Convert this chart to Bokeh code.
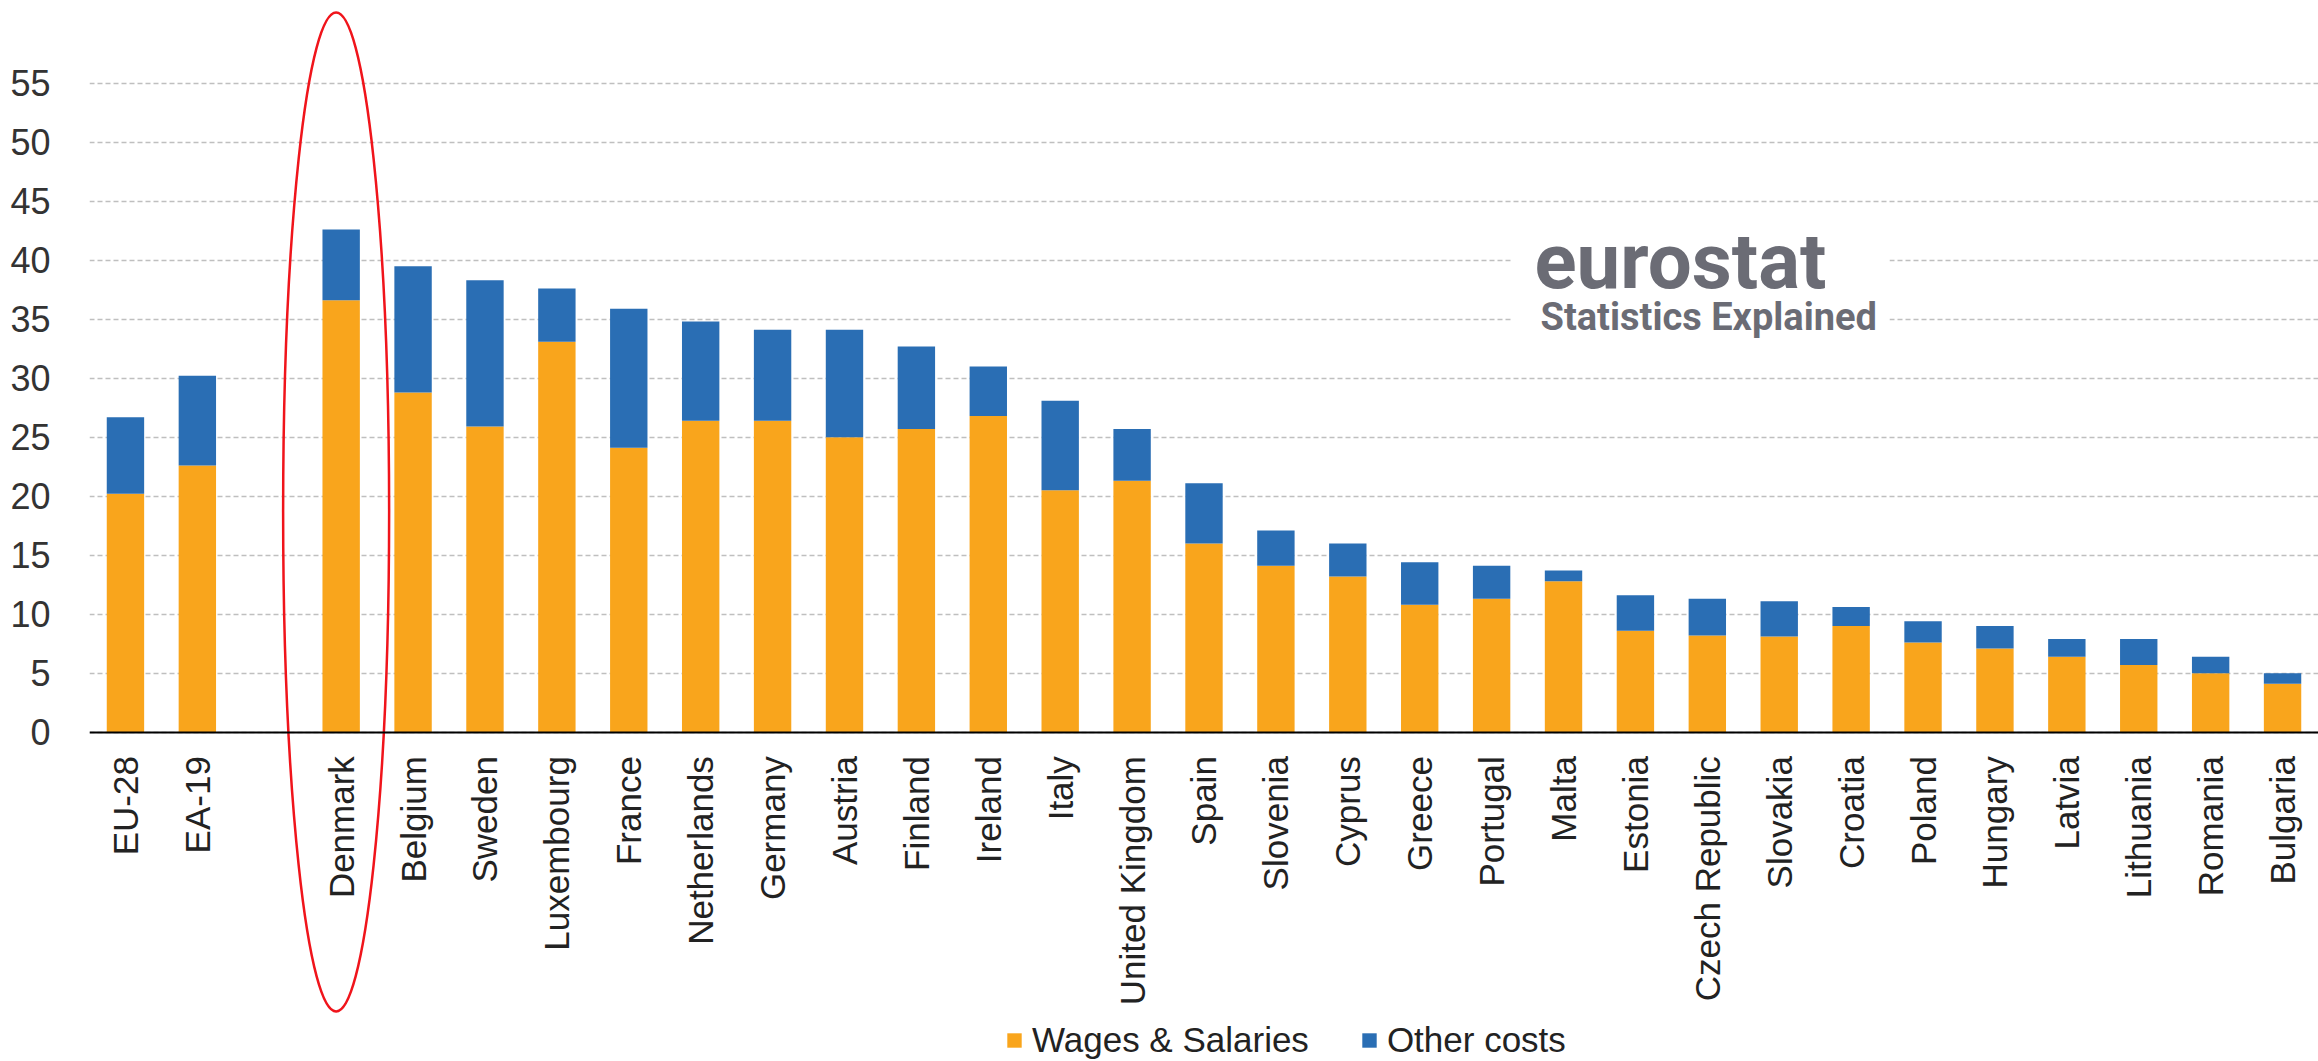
import math
from bokeh.plotting import figure
from bokeh.models import (ColumnDataSource, FactorRange, Range1d, FixedTicker, Legend,
                          LegendItem, Label, BoxAnnotation)
from bokeh.embed import file_html
from bokeh.resources import INLINE

# ---------------- data ----------------
categories = ["EU-28", "EA-19", "Denmark", "Belgium", "Sweden", "Luxembourg", "France",
              "Netherlands", "Germany", "Austria", "Finland", "Ireland", "Italy",
              "United Kingdom", "Spain", "Slovenia", "Cyprus", "Greece", "Portugal", "Malta",
              "Estonia", "Czech Republic", "Slovakia", "Croatia", "Poland", "Hungary",
              "Latvia", "Lithuania", "Romania", "Bulgaria"]
# totals (wages + other costs), EUR per hour
totals = [26.7, 30.2, 42.6, 39.5, 38.3, 37.6, 35.9, 34.8, 34.1, 34.1, 32.7, 31.0, 28.1,
          25.7, 21.1, 17.1, 16.0, 14.4, 14.1, 13.7, 11.6, 11.3, 11.1, 10.6, 9.4, 9.0,
          7.9, 7.9, 6.4, 5.0]
wages = [20.2, 22.6, 36.6, 28.8, 25.9, 33.1, 24.1, 26.4, 26.4, 25.0, 25.7, 26.8, 20.5,
         21.3, 16.0, 14.1, 13.2, 10.8, 11.3, 12.8, 8.6, 8.2, 8.1, 9.0, 7.6, 7.1,
         6.4, 5.7, 5.0, 4.1]
other = [round(t - w, 2) for t, w in zip(totals, wages)]
spacer = " "
factors = categories[:2] + [spacer] + categories[2:]
series_labels = ["Wages & Salaries", "Other costs"]
y_ticks = list(range(0, 60, 5))
highlight = "Denmark"

ORANGE = "#F9A51C"
BLUE = "#2A6EB4"

source = ColumnDataSource(dict(cat=categories, wages=wages, other=other))

W, H = 2318, 1061
p = figure(width=W, height=H, output_backend="svg", toolbar_location=None,
           x_range=FactorRange(factors=factors, range_padding=0),
           y_range=Range1d(-27.92, 62.02),
           min_border_left=89, min_border_right=0, min_border_top=0, min_border_bottom=0)
p.outline_line_color = None
p.background_fill_color = "white"

rs = p.vbar_stack(["wages", "other"], x="cat", width=0.52, color=[ORANGE, BLUE],
                  line_color=None, source=source)

# highlight ellipse around Denmark
p.ellipse(x=[(highlight, -0.07)], y=[18.66], width=106, height=999, width_units="screen",
          height_units="screen", fill_color=None, line_color="#F0141B", line_width=2.5)

# axes
p.xgrid.visible = False
p.ygrid.ticker = FixedTicker(ticks=y_ticks)
p.ygrid.grid_line_color = "#BFBFBF"
p.ygrid.grid_line_dash = "5 3"
p.ygrid.grid_line_width = 1.5

p.yaxis.ticker = FixedTicker(ticks=y_ticks)
p.yaxis.axis_line_color = None
p.yaxis.major_tick_line_color = None
p.yaxis.minor_tick_line_color = None
p.yaxis.major_label_standoff = 33
p.yaxis.major_label_text_font = "Liberation Sans"
p.yaxis.major_label_text_font_size = "36px"
p.yaxis.major_label_text_color = "#333333"

p.xaxis.fixed_location = 0
p.xaxis.axis_line_color = "black"
p.xaxis.axis_line_width = 2
p.xaxis.major_tick_line_color = None
p.xaxis.minor_tick_line_color = None
p.xaxis.major_label_orientation = math.pi / 2
p.xaxis.major_label_standoff = 18
p.xaxis.major_label_text_font = "Liberation Sans"
p.xaxis.major_label_text_font_size = "35px"
p.xaxis.major_label_text_color = "#222222"

# logo backdrop + text
p.add_layout(BoxAnnotation(left=1422, right=1800, bottom=721, top=854,
                           left_units="screen", right_units="screen",
                           bottom_units="screen", top_units="screen",
                           fill_color="white", fill_alpha=1, line_color=None))
p.add_layout(Label(x=1445, y=800, x_units="screen", y_units="screen", text="eurostat",
                   text_font="Roboto", text_font_style="bold", text_font_size="78px",
                   text_color="#6B6C75", text_baseline="alphabetic"))
p.add_layout(Label(x=1451, y=745, x_units="screen", y_units="screen",
                   text="Statistics Explained", text_font="Roboto",
                   text_font_style="bold", text_font_size="38px",
                   text_color="#6B6C75", text_baseline="alphabetic"))

legend = Legend(items=[LegendItem(label=series_labels[0], renderers=[rs[0]]),
                       LegendItem(label=series_labels[1], renderers=[rs[1]])],
                location=(916, 1), orientation="horizontal",
                glyph_width=18, glyph_height=18, label_standoff=9, spacing=51,
                padding=0, margin=0, border_line_color=None, background_fill_alpha=0,
                label_text_font="Liberation Sans", label_text_font_size="35px",
                label_text_color="#222222")
p.add_layout(legend, "center")

open("out.html", "w").write(file_html(p, INLINE))
